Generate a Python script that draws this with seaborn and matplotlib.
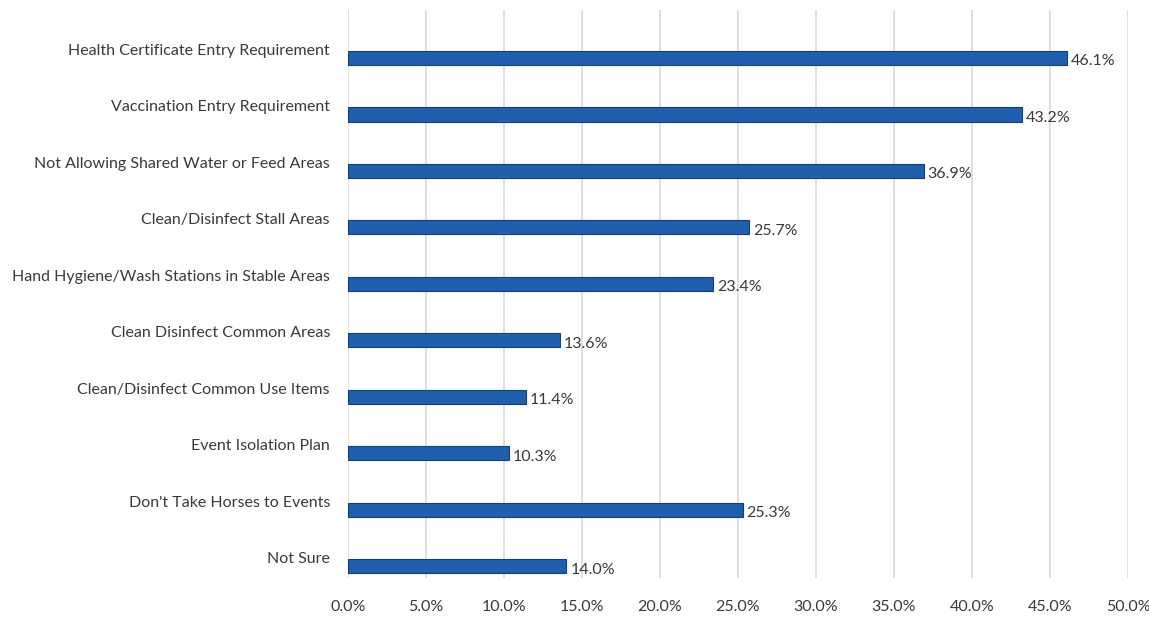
import numpy as np
import pandas as pd
import matplotlib
matplotlib.use("Agg")
import matplotlib.pyplot as plt
import seaborn as sns
from matplotlib.ticker import FuncFormatter

categories = [
    "Health Certificate Entry Requirement",
    "Vaccination Entry Requirement",
    "Not Allowing Shared Water or Feed Areas",
    "Clean/Disinfect Stall Areas",
    "Hand Hygiene/Wash Stations in Stable Areas",
    "Clean Disinfect Common Areas",
    "Clean/Disinfect Common Use Items",
    "Event Isolation Plan",
    "Don't Take Horses to Events",
    "Not Sure",
]
percent = [46.1, 43.2, 36.9, 25.7, 23.4, 13.6, 11.4, 10.3, 25.3, 14.0]
x_ticks = [0, 5, 10, 15, 20, 25, 30, 35, 40, 45, 50]

BAR_CLR = "#1f5fae"
TXT_CLR = "#3a3a3a"

sns.set_style("white")
plt.rcParams["font.family"] = ["Lato", "DejaVu Sans"]

df = pd.DataFrame({"Measure": categories, "Percent": percent})

fig = plt.figure(figsize=(11.49, 6.21), dpi=100)
ax = fig.add_axes([348 / 1149, 1 - 578 / 621, (1128 - 348) / 1149, 568 / 621])

sns.barplot(data=df, x="Percent", y="Measure", orient="h", color=BAR_CLR,
            width=0.25, edgecolor="#123f7a", linewidth=0.8, saturation=1,
            ax=ax, zorder=3)

for i, v in enumerate(percent):
    ax.text(v + 0.25, i + 0.06, f"{v:.1f}%", va="center", ha="left",
            fontsize=11.5, color=TXT_CLR)

ax.set_xlim(0, 50)
ax.set_ylim(9.21, -0.85)
ax.set_xticks(x_ticks)
ax.xaxis.set_major_formatter(FuncFormatter(lambda v, _: f"{v:.1f}%"))
ax.grid(axis="x", color="#d9d9d9", linewidth=1.2, zorder=0)
ax.grid(axis="y", visible=False)
for s in ax.spines.values():
    s.set_visible(False)

ax.set_xlabel("")
ax.set_ylabel("")
ax.tick_params(axis="x", length=0, pad=16, labelsize=11.5, labelcolor=TXT_CLR)
ax.tick_params(axis="y", length=0, pad=13, labelsize=11.5, labelcolor=TXT_CLR)
for lbl in ax.get_yticklabels():
    lbl.set_verticalalignment("bottom")

fig.savefig("out.png", dpi=100)
